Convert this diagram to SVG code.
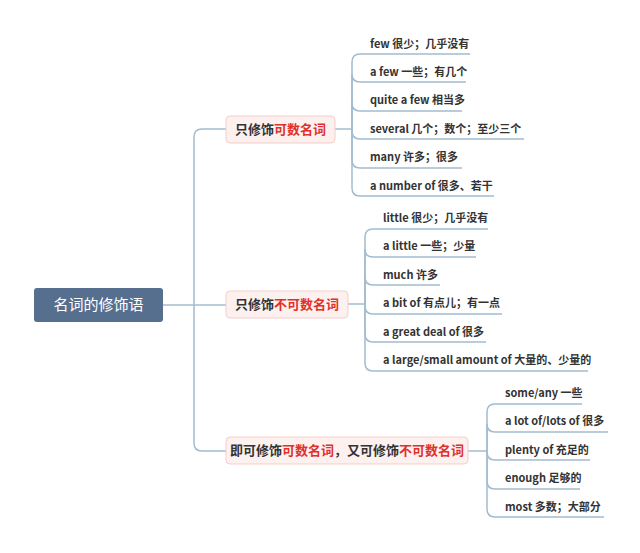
<svg xmlns="http://www.w3.org/2000/svg" width="640" height="553" viewBox="0 0 640 553">
<style>
text{font-family:"Noto Sans CJK SC","Noto Sans",sans-serif}
.c{fill:none;stroke:#a3bccf;stroke-width:1.5}
.l{font-size:11px;fill:#333;font-weight:bold}
.b{font-size:13px;fill:#333;font-weight:bold}
.r{fill:#e0302a}
.bx{fill:#fdf1f0;stroke:#f5cdc9}
</style>
<rect width="640" height="553" fill="#fff"/>
<g id="connectors" class="c">
<path d="M163 305H194"/>
<path d="M194 305V137Q194 129 202 129H226"/>
<path d="M194 305V443Q194 451 202 451H226"/>
<path d="M194 305H226"/>
<path d="M335 129H352"/>
<path d="M348 304H365"/>
<path d="M468 451H487"/>
<path d="M352 129V62Q352 54 360 54H470"/>
<path d="M352 129V74Q352 82 360 82H466"/>
<path d="M352 129V103Q352 111 360 111H462"/>
<path d="M352 129V131Q352 139 360 139H524"/>
<path d="M352 129V160Q352 168 360 168H462"/>
<path d="M352 129V188Q352 196 360 196H494"/>
<path d="M365 304V237Q365 229 373 229H488"/>
<path d="M365 304V249Q365 257 373 257H476"/>
<path d="M365 304V277Q365 285 373 285H440"/>
<path d="M365 304V306Q365 314 373 314H502"/>
<path d="M365 304V334Q365 342 373 342H486"/>
<path d="M365 304V363Q365 371 373 371H588"/>
<path d="M487 451V412Q487 404 495 404H582"/>
<path d="M487 451V424Q487 432 495 432H608"/>
<path d="M487 451V452Q487 460 495 460H590"/>
<path d="M487 451V481Q487 489 495 489H580"/>
<path d="M487 451V509Q487 517 495 517H604"/>
</g>
<g id="root"><rect x="34" y="288" width="129" height="34" rx="3" fill="#566f8f"/><text x="98.5" y="310" text-anchor="middle" font-size="15" fill="#fff">名词的修饰语</text></g>
<g id="b1"><rect class="bx" x="226" y="116" width="109" height="27" rx="4"/><text class="b" x="280.5" y="134" text-anchor="middle">只修饰<tspan class="r">可数名词</tspan></text></g>
<g id="b2"><rect class="bx" x="226" y="291" width="122" height="27" rx="4"/><text class="b" x="287" y="309" text-anchor="middle">只修饰<tspan class="r">不可数名词</tspan></text></g>
<g id="b3"><rect class="bx" x="226" y="437" width="242" height="27" rx="4"/><text class="b" x="347" y="455" text-anchor="middle">即可修饰<tspan class="r">可数名词</tspan>，又可修饰<tspan class="r">不可数名词</tspan></text></g>
<g id="leaves1" class="l">
<text x="370" y="48">few 很少；几乎没有</text>
<text x="370" y="76">a few 一些；有几个</text>
<text x="370" y="104">quite a few 相当多</text>
<text x="370" y="133">several 几个；数个；至少三个</text>
<text x="370" y="161">many 许多；很多</text>
<text x="370" y="190">a number of 很多、若干</text>
</g>
<g id="leaves2" class="l">
<text x="383" y="222">little 很少；几乎没有</text>
<text x="383" y="250">a little 一些；少量</text>
<text x="383" y="279">much 许多</text>
<text x="383" y="307">a bit of 有点儿；有一点</text>
<text x="383" y="336">a great deal of 很多</text>
<text x="383" y="364">a large/small amount of 大量的、少量的</text>
</g>
<g id="leaves3" class="l">
<text x="505" y="397">some/any 一些</text>
<text x="505" y="425">a lot of/lots of 很多</text>
<text x="505" y="454">plenty of 充足的</text>
<text x="505" y="482">enough 足够的</text>
<text x="505" y="511">most 多数；大部分</text>
</g>
</svg>
